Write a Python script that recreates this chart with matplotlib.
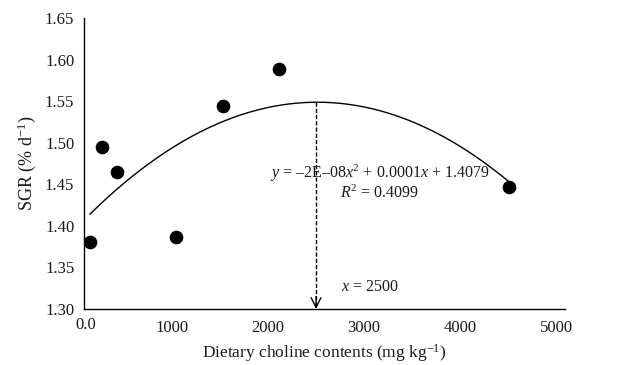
import numpy as np
import matplotlib
matplotlib.use("Agg")
import matplotlib.pyplot as plt
from matplotlib.transforms import blended_transform_factory

plt.rcParams['font.family'] = ['Liberation Serif', 'DejaVu Serif']
plt.rcParams['mathtext.fontset'] = 'custom'
plt.rcParams['mathtext.rm'] = 'Liberation Serif'
plt.rcParams['mathtext.it'] = 'Liberation Serif:italic'

# Data
choline = [151, 272, 434, 1048, 1535, 2112, 4503]
sgr = [1.380, 1.495, 1.465, 1.387, 1.544, 1.589, 1.447]
optimum_x = 2500
x_ticks = [1000, 2000, 3000, 4000, 5000]
x_tick_labels = ["1000", "2000", "3000", "4000", "5000"]
y_ticks = [1.30, 1.35, 1.40, 1.45, 1.50, 1.55, 1.60, 1.65]
y_tick_labels = ["1.30", "1.35", "1.40", "1.45", "1.50", "1.55", "1.60", "1.65"]

fig = plt.figure(figsize=(6.18, 3.65), dpi=100)
ax = fig.add_axes([84/618, 1-309/365, (565-84)/618, (309-18)/365])

# quadratic trend line (least squares, like Excel trendline)
coef = np.polyfit(choline, sgr, 2)
xs = np.linspace(min(choline), max(choline), 300)
ax.plot(xs, np.polyval(coef, xs), color='black', lw=1.0, zorder=2)

ax.plot(choline, sgr, 'o', color='black', ms=8.8, zorder=3)

peak_y = np.polyval(coef, optimum_x)
ax.plot([optimum_x, optimum_x], [peak_y, 1.302], color='black', lw=1.0,
        ls=(0, (3, 1.5)), zorder=2)
ax.annotate('', xy=(optimum_x, 1.300), xytext=(optimum_x, 1.315),
            arrowprops=dict(arrowstyle='->,head_length=0.7,head_width=0.35',
                            color='black', lw=1.0, shrinkA=0, shrinkB=0))

ax.set_xlim(88, 5088)
ax.set_ylim(1.30, 1.65)
ax.set_xticks(x_ticks)
ax.set_xticklabels(x_tick_labels)
ax.set_yticks(y_ticks)
ax.set_yticklabels(y_tick_labels)
ax.tick_params(length=0, labelsize=12, colors='#1a1a1a')
ax.tick_params(axis='x', pad=8)
ax.tick_params(axis='y', pad=7)
trans = blended_transform_factory(ax.transData, ax.transAxes)
ax.text(109, -0.0275, "0.0", transform=trans, ha='center', va='top',
        fontsize=12, color='#1a1a1a')

for s in ['top', 'right']:
    ax.spines[s].set_visible(False)
for s in ['left', 'bottom']:
    ax.spines[s].set_linewidth(1.0)
    ax.spines[s].set_color('black')

ax.text(3165, 1.4637, "$y$ = \u20132E\u201308$x^2$ + 0.0001$x$ + 1.4079",
        ha='center', va='center', fontsize=11.5, color='#1a1a1a', zorder=4)
ax.text(3160, 1.4396, "$R^2$ = 0.4099", ha='center', va='center',
        fontsize=11.5, color='#1a1a1a', zorder=4)
ax.text(2760, 1.3265, "$x$ = 2500", ha='left', va='center',
        fontsize=11.5, color='#1a1a1a')

ax.set_xlabel("Dietary choline contents (mg kg$^{\u22121}$)", fontsize=12.5,
              color='#1a1a1a', labelpad=4)
ax.set_ylabel("SGR (% d$^{\u22121}$)", fontsize=13, color='#1a1a1a',
              labelpad=5)

fig.savefig("out.png", dpi=100)
